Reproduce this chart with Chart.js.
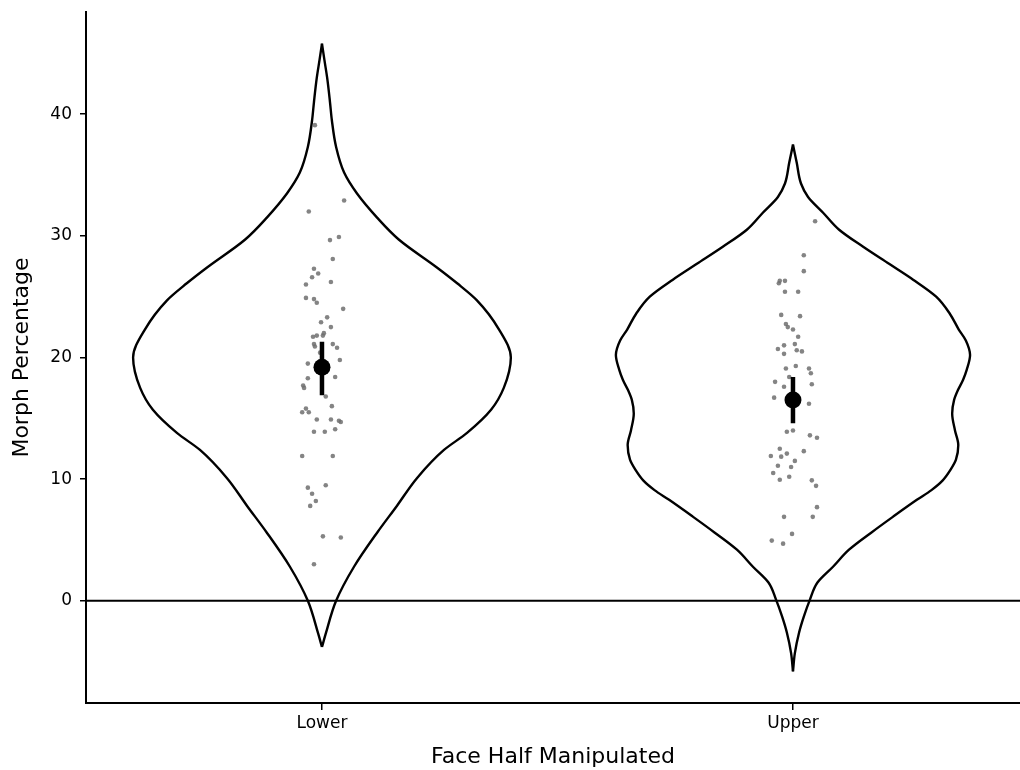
<!DOCTYPE html>
<html>
<head>
<meta charset="utf-8">
<script src="https://cdn.jsdelivr.net/npm/chart.js@4.4.1/dist/chart.umd.min.js"></script>
<style>
  html, body { margin: 0; padding: 0; background: #ffffff; overflow: hidden; }
  #wrap { width: 1020px; height: 770px; }
  canvas { display: block; }
</style>
</head>
<body>
<div id="wrap"><canvas id="c" width="1020" height="770"></canvas></div>
<script>
// ---------- data ----------
const categories = ['Lower', 'Upper'];
const yTicks = [0, 10, 20, 30, 40];
const xTitle = 'Face Half Manipulated';
const yTitle = 'Morph Percentage';

// individual observations (values) and their horizontal jitter (category units)
const lowerValues = [39.1, 32.9, 32.0, 29.65, 29.9, 28.1, 27.3, 26.9, 26.6, 26.2, 26.0, 24.9, 24.8, 24.5, 24.0,
  23.3, 22.9, 22.5, 22.0, 21.8, 21.8, 21.7, 21.1, 20.9, 21.1, 20.8, 20.4, 19.8, 19.5, 18.3, 18.4, 17.7, 17.5,
  16.8, 16.0, 15.8, 15.5, 15.5, 14.9, 14.9, 14.8, 14.7, 13.9, 13.9, 14.1, 11.9, 11.9, 9.5, 9.3, 8.8, 8.2, 7.8,
  5.3, 5.2, 3.0];
const lowerJitter = [-0.015, 0.047, -0.028, 0.017, 0.036, 0.023, -0.017, -0.008, -0.021, 0.019, -0.034, -0.034,
  -0.017, -0.011, 0.045, 0.011, -0.002, 0.019, 0.004, 0.002, -0.011, -0.019, -0.017, -0.015, 0.023, 0.032, -0.004,
  0.038, -0.030, -0.030, 0.028, -0.040, -0.038, 0.008, 0.021, -0.034, -0.042, -0.028, -0.011, 0.019, 0.036, 0.040,
  -0.017, 0.006, 0.028, -0.042, 0.023, 0.008, -0.030, -0.021, -0.013, -0.025, 0.002, 0.040, -0.017];

const upperValues = [31.2, 28.4, 27.1, 26.3, 26.1, 26.3, 25.4, 25.4, 23.5, 23.4, 22.75, 22.5, 22.3, 21.7, 21.1,
  21.0, 20.7, 20.6, 20.5, 20.3, 19.3, 19.1, 19.1, 18.7, 18.4, 18.0, 17.8, 17.6, 16.7, 16.2, 13.9, 14.0, 13.6, 13.4,
  12.5, 12.3, 12.1, 11.9, 11.85, 11.5, 11.1, 11.0, 10.5, 9.95, 10.2, 9.9, 9.45, 7.7, 6.9, 6.9, 5.5, 4.95, 4.7];
const upperJitter = [0.047, 0.023, 0.023, -0.028, -0.030, -0.017, -0.017, 0.011, -0.025, 0.015, -0.015, -0.011, 0,
  0.011, 0.004, -0.019, -0.032, 0.008, 0.019, -0.019, 0.006, -0.015, 0.034, 0.038, -0.008, -0.038, 0.040, -0.019,
  -0.040, 0.034, -0.013, 0, 0.036, 0.051, -0.028, 0.023, -0.013, -0.047, -0.025, 0.004, -0.032, -0.004, -0.042,
  -0.028, -0.008, 0.040, 0.049, 0.051, -0.019, 0.042, -0.002, -0.045, -0.021];

// means and interval ends
const means = [19.2, 16.5];
const ciLow = [16.9, 14.6];
const ciHigh = [21.3, 18.4];

// violin outlines: heights and half-widths (category units)
const lowerProfileY = [45.8, 44.5, 43.0, 41.0, 39.5, 37.3, 35.2, 33.5, 31.5, 29.7, 27.4, 26.1, 24.7, 22.3, 20.0,
  17.5, 15.7, 13.8, 12.4, 10.1, 7.8, 5.6, 2.8, 0.0, -2.7, -3.8];
const lowerProfileW = [0, 0.005, 0.011, 0.017, 0.021, 0.030, 0.047, 0.074, 0.117, 0.163, 0.244, 0.287, 0.329, 0.376,
  0.401, 0.386, 0.359, 0.308, 0.259, 0.202, 0.159, 0.117, 0.068, 0.030, 0.008, 0];
const upperProfileY = [37.5, 36.0, 34.3, 33.2, 31.9, 30.5, 29.1, 27.7, 26.4, 25.0, 23.6, 22.3, 21.4, 20.2, 19.0,
  18.15, 17.3, 16.5, 15.4, 14.0, 12.8, 11.6, 10.8, 9.9, 9.1, 8.3, 6.9, 5.6, 4.2, 2.8, 1.5, 0.1, -1.3, -2.6, -4.3, -5.8];
const upperProfileW = [0, 0.008, 0.017, 0.032, 0.064, 0.098, 0.149, 0.204, 0.255, 0.304, 0.333, 0.352, 0.367, 0.376,
  0.369, 0.361, 0.350, 0.342, 0.338, 0.344, 0.351, 0.346, 0.335, 0.318, 0.294, 0.263, 0.212, 0.166, 0.119, 0.085,
  0.052, 0.036, 0.023, 0.013, 0.004, 0];

// ---------- build datasets ----------
const FONT = "'DejaVu Sans', sans-serif";
const datasets = [];

// mean markers (top)
datasets.push({
  data: means.map((m, i) => ({ x: i, y: m })),
  pointRadius: 8.5, pointBackgroundColor: '#000', pointBorderWidth: 0, showLine: false, order: 0
});
// interval bars
means.forEach((m, i) => {
  datasets.push({
    data: [{ x: i, y: ciHigh[i] }, { x: i, y: ciLow[i] }],
    showLine: true, borderColor: '#000', borderWidth: 4.5, pointRadius: 0, borderCapStyle: 'butt', order: 1
  });
});
// jittered observations
datasets.push({
  data: lowerValues.map((v, k) => ({ x: 0 + lowerJitter[k], y: v })),
  pointRadius: 2.3, pointBackgroundColor: 'rgba(110,110,110,0.85)', pointBorderWidth: 0, showLine: false, order: 2
});
datasets.push({
  data: upperValues.map((v, k) => ({ x: 1 + upperJitter[k], y: v })),
  pointRadius: 2.3, pointBackgroundColor: 'rgba(110,110,110,0.85)', pointBorderWidth: 0, showLine: false, order: 2
});
// violin sides (each side drawn top to bottom, monotone along the y axis)
[[lowerProfileY, lowerProfileW], [upperProfileY, upperProfileW]].forEach(([py, pw], i) => {
  [1, -1].forEach(side => {
    datasets.push({
      data: py.map((y, k) => ({ x: i + side * pw[k], y })),
      showLine: true, borderColor: '#000', borderWidth: 2.4, pointRadius: 0,
      cubicInterpolationMode: 'monotone', borderJoinStyle: 'round', order: 3
    });
  });
});
// zero reference line
datasets.push({
  data: [{ x: -0.6, y: 0 }, { x: 1.6, y: 0 }],
  showLine: true, borderColor: '#000', borderWidth: 2, pointRadius: 0, order: 4
});

const zeroPad = s => { s.paddingTop = 0; s.paddingBottom = 0; s.paddingLeft = 0; s.paddingRight = 0; };

new Chart(document.getElementById('c'), {
  type: 'scatter',
  data: { datasets },
  options: {
    indexAxis: 'y',
    responsive: false,
    animation: false,
    events: [],
    layout: { autoPadding: false, padding: { top: 12, right: 0, left: 0, bottom: 0 } },
    plugins: { legend: { display: false }, tooltip: { enabled: false } },
    scales: {
      x: {
        type: 'linear', min: -0.501, max: 1.482,
        afterBuildTicks: s => { s.ticks = categories.map((c, i) => ({ value: i })); },
        afterFit: s => { s.height = 67; zeroPad(s); },
        ticks: {
          callback: v => categories[v], color: '#000', padding: 3,
          font: { family: FONT, size: 17 }, maxRotation: 0, autoSkip: false
        },
        grid: { display: true, drawOnChartArea: false, drawTicks: true, tickLength: 7, color: '#000', lineWidth: 1.5 },
        border: { display: true, color: '#000', width: 2 },
        title: { display: true, text: xTitle, color: '#000', font: { family: FONT, size: 22 }, padding: { top: 0, bottom: 0 } }
      },
      y: {
        type: 'linear', min: -8.4, max: 48.4,
        afterBuildTicks: s => { s.ticks = yTicks.map(v => ({ value: v })); },
        afterFit: s => { s.width = 86; zeroPad(s); },
        ticks: { color: '#000', padding: 8, font: { family: FONT, size: 17 } },
        grid: { display: true, drawOnChartArea: false, drawTicks: true, tickLength: 6, color: '#000', lineWidth: 1.5 },
        border: { display: true, color: '#000', width: 2 },
        title: { display: true, text: yTitle, color: '#000', font: { family: FONT, size: 22 }, padding: { top: 9, bottom: 0 } }
      }
    }
  }
});
</script>
</body>
</html>
